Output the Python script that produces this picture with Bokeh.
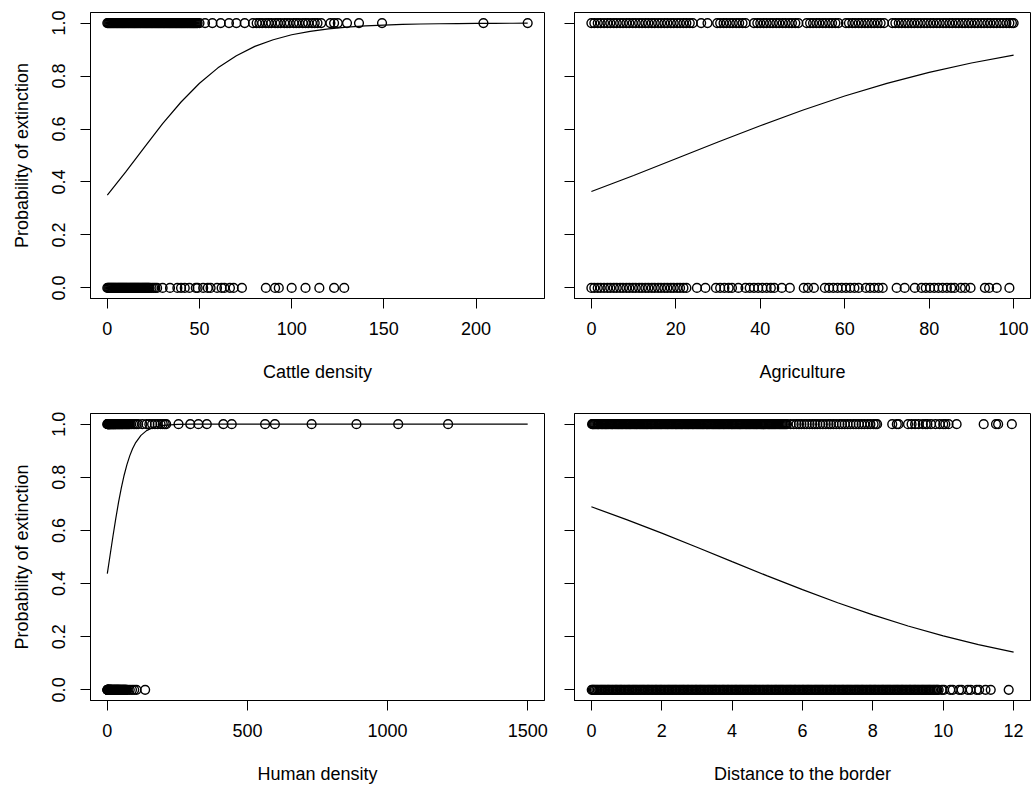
from bokeh.plotting import figure
from bokeh.layouts import column, row
from bokeh.models import FixedTicker, Range1d, PrintfTickFormatter, CustomJSTickFormatter
from bokeh.embed import file_html
from bokeh.resources import INLINE

FONT = "Liberation Sans"
FS = "18px"

y_ticks = [0, 0.2, 0.4, 0.6, 0.8, 1.0]
y_title = "Probability of extinction"

# ---------------- Cattle density ----------------
cattle_title = "Cattle density"
cattle_ticks = [0, 50, 100, 150, 200]
cattle_extinct = [0, 0.5, 1, 1.5, 2, 2.5, 3, 3.5, 4, 4.5, 5, 5.5, 6, 6.5, 7, 7.5, 8, 8.5, 9, 9.5,
                  10, 10.5, 11, 11.5, 12, 12.5, 13, 13.5, 14, 14.5, 15, 15.5, 16, 16.5, 17, 17.5,
                  18, 18.5, 19, 19.5, 20, 20.5, 21, 21.5, 22, 22.5, 23, 23.5, 24, 24.5, 25, 25.5,
                  26, 26.5, 27, 27.5, 28, 28.5, 29, 29.5, 30, 30.5, 31, 31.5, 32, 32.5, 33, 33.5,
                  34, 34.5, 35, 35.5, 36, 36.5, 37, 37.5, 38, 38.5, 39, 39.5, 40, 40.5, 41, 41.5,
                  42, 42.5, 43, 43.5, 44, 44.5, 45, 45.5, 46, 46.5, 47, 47.5, 48, 48.5, 49, 50,
                  53, 57, 61.5, 66, 70, 74.5, 79, 81, 82.5, 84, 86, 87.5, 89, 91, 92.5, 94, 96,
                  97.5, 99, 101, 102.5, 104, 106, 107.5, 109, 111, 112.5, 114, 116, 121, 123, 125,
                  130, 136.5, 149, 204, 228]
cattle_survived = [0, 0.5, 1, 1.5, 2, 2.5, 3, 3.5, 4, 4.5, 5, 5.5, 6, 6.5, 7, 7.5, 8, 8.5, 9, 9.5,
                   10, 10.5, 11, 11.5, 12, 12.5, 13, 13.5, 14, 14.5, 15, 15.5, 16, 16.5, 17, 17.5,
                   18, 18.5, 19, 19.5, 20, 20.5, 21, 21.5, 22, 22.5, 23, 24, 25, 26, 27, 30, 34,
                   38, 40, 42, 44.5, 48, 49, 52, 54.5, 56, 59.5, 62, 63.5, 66.5, 68.5, 73, 86, 91,
                   93, 100, 107.5, 115, 123, 128.5]
cattle_curve_x = [0, 10, 20, 30, 40, 50, 60, 70, 80, 90, 100, 110, 120, 130, 140, 150, 160, 170,
                  180, 190, 200, 210, 220, 228]
cattle_curve_p = [0.350, 0.438, 0.530, 0.620, 0.702, 0.773, 0.831, 0.877, 0.912, 0.937, 0.956,
                  0.969, 0.978, 0.985, 0.9895, 0.9927, 0.995, 0.9965, 0.9976, 0.9983, 0.9988,
                  0.9992, 0.9994, 0.9996]

# ---------------- Agriculture ----------------
agri_title = "Agriculture"
agri_ticks = [0, 20, 40, 60, 80, 100]
agri_extinct = [0, 0.7, 1.5, 2.2, 3, 3.8, 4.5, 5.3, 6, 6.8, 7.5, 8.3, 9, 9.8, 10.5, 11.3, 12, 12.8,
                13.5, 14.3, 15, 15.8, 16.5, 17.3, 18, 18.8, 19.5, 20.3, 21, 21.8, 22.5, 23.3, 24,
                26, 27.5, 29.8, 30.5, 31.3, 32, 32.8, 33.5, 34.3, 35, 35.8, 36.5, 38.5, 39.3, 40,
                40.8, 41.5, 42.3, 43, 43.8, 44.5, 45.3, 46, 46.8, 47.5, 48.3, 49, 51, 51.8, 52.5,
                53.3, 54, 54.8, 55.5, 56.3, 57, 57.8, 58.5, 60.3, 61, 61.8, 62.5, 63.3, 64, 64.8,
                65.5, 66.3, 67, 67.8, 68.5, 69.3, 71.3, 72, 72.8, 73.5, 74.3, 75, 75.8, 76.5,
                77.3, 78, 78.8, 79.5, 80.3, 81, 81.8, 82.5, 83.3, 84, 84.8, 85.5, 86.3, 87, 87.8,
                88.5, 89.3, 90, 90.8, 91.5, 92.3, 93, 93.8, 94.5, 95.3, 96, 96.8, 97.5, 98.3, 99,
                99.6, 100]
agri_survived = [0, 0.7, 1.5, 2.2, 3, 3.8, 4.5, 5.3, 6, 6.8, 7.5, 8.3, 9, 9.8, 10.5, 11.3, 12,
                 12.8, 13.5, 14.3, 15, 15.8, 16.5, 17.3, 18, 18.8, 19.5, 20.3, 21, 21.8, 22.5,
                 25, 27, 29.5, 30.5, 31.5, 32.5, 33.3, 34.8, 36.5, 37.5, 38.5, 39.5, 40.5, 41.5,
                 42.5, 43.3, 45.1, 47, 50.3, 51.3, 52.7, 55.3, 56.3, 57.3, 58.3, 59.3, 60.3, 61.3,
                 62.3, 63.3, 65, 66, 67, 68, 69, 72.3, 74.2, 76.6, 78.2, 79.2, 80.2, 81.2, 82.2,
                 83.2, 84.2, 85.2, 86, 87.5, 88.5, 89.8, 93.2, 94.2, 96, 99]
agri_curve_x = [0, 10, 20, 30, 40, 50, 60, 70, 80, 90, 100]
agri_curve_p = [0.364, 0.4246, 0.4875, 0.5508, 0.6125, 0.671, 0.7245, 0.7722, 0.8138, 0.8493, 0.879]

# ---------------- Human density ----------------
human_title = "Human density"
human_ticks = [0, 500, 1000, 1500]
human_extinct = [0, 1, 2, 3, 4, 5, 6, 7, 8, 9, 10, 11.5, 13, 14.5, 16, 17.5, 19, 20.5, 22, 23.5, 25,
                 26.5, 28, 29.5, 31, 33, 35, 37, 39, 41, 43, 45, 47, 49, 51, 53, 55, 57.5, 60,
                 62.5, 65, 67.5, 70, 72.5, 75, 77.5, 80, 85, 92, 98, 104, 110, 125, 140, 150, 160,
                 170, 180, 190, 198, 205, 210, 254, 296, 325, 355, 414, 444, 563, 598, 729, 889,
                 1038, 1216]
human_survived = [0, 0.5, 1, 1.5, 2, 2.5, 3, 3.5, 4, 5, 6, 7, 8, 9, 10, 11, 12, 13, 14, 15, 16, 18,
                  20, 21.5, 23, 24.5, 26, 27.5, 29, 30.5, 32, 33.5, 35, 36.5, 38, 39.5, 41, 42.5,
                  44, 46, 48, 50, 52, 54, 56, 58, 60, 62, 64, 66, 68, 72, 80, 88, 96, 104, 135]
human_curve_x = [0, 10, 20, 30, 40, 50, 60, 70, 80, 90, 100, 120, 140, 160, 180, 200, 250, 300,
                 400, 1500]
human_curve_p = [0.4376, 0.5075, 0.5771, 0.6438, 0.7054, 0.7603, 0.8077, 0.8476, 0.8805, 0.9071,
                 0.9282, 0.9577, 0.9755, 0.9859, 0.9919, 0.9954, 0.9989, 0.9997, 1.0, 1.0]

# ---------------- Distance to the border ----------------
dist_title = "Distance to the border"
dist_ticks = [0, 2, 4, 6, 8, 10, 12]
dist_extinct = [0.02, 0.04, 0.06, 0.085, 0.11, 0.14, 0.17, 0.19, 0.21, 0.245, 0.28, 0.305, 0.33,
                0.36, 0.39, 0.415, 0.44, 0.47, 0.5, 0.535, 0.57, 0.59, 0.61, 0.645, 0.68, 0.71,
                0.74, 0.765, 0.79, 0.82, 0.85, 0.875, 0.9, 0.935, 0.97, 0.995, 1.02, 1.05, 1.08,
                1.105, 1.13, 1.165, 1.2, 1.23, 1.26, 1.285, 1.31, 1.34, 1.37, 1.4, 1.43, 1.46,
                1.49, 1.52, 1.55, 1.575, 1.6, 1.635, 1.67, 1.695, 1.72, 1.75, 1.78, 1.81, 1.84,
                1.87, 1.9, 1.93, 1.96, 1.985, 2.01, 2.045, 2.08, 2.11, 2.14, 2.165, 2.19, 2.22,
                2.25, 2.28, 2.31, 2.345, 2.38, 2.405, 2.43, 2.46, 2.49, 2.52, 2.55, 2.575, 2.6,
                2.635, 2.67, 2.7, 2.73, 2.755, 2.78, 2.815, 2.85, 2.875, 2.9, 2.93, 2.96, 2.99,
                3.02, 3.05, 3.08, 3.11, 3.14, 3.165, 3.19, 3.225, 3.26, 3.285, 3.31, 3.34, 3.37,
                3.405, 3.44, 3.465, 3.49, 3.52, 3.55, 3.58, 3.61, 3.635, 3.66, 3.695, 3.73,
                3.755, 3.78, 3.81, 3.84, 3.87, 3.9, 3.935, 3.97, 3.995, 4.02, 4.05, 4.08, 4.11,
                4.14, 4.17, 4.2, 4.225, 4.25, 4.28, 4.31, 4.345, 4.38, 4.405, 4.43, 4.46, 4.49,
                4.52, 4.55, 4.58, 4.61, 4.64, 4.67, 4.695, 4.72, 4.755, 4.79, 4.82, 4.85, 4.875,
                4.9, 4.93, 4.96, 4.995, 5.03, 5.055, 5.08, 5.11, 5.14, 5.17, 5.2, 5.23, 5.26,
                5.29, 5.32, 5.35, 5.38, 5.41, 5.44, 5.47, 5.5, 5.53, 5.56, 5.66, 5.75, 5.83, 5.9,
                5.97, 6.05, 6.12, 6.2, 6.28, 6.35, 6.42, 6.5, 6.58, 6.66, 6.74, 6.8, 6.88, 6.96,
                7.05, 7.12, 7.2, 7.28, 7.36, 7.45, 7.52, 7.6, 7.68, 7.76, 7.85, 7.93, 8.02, 8.08,
                8.12, 8.55, 8.68, 8.73, 9.0, 9.1, 9.2, 9.3, 9.42, 9.5, 9.55, 9.65, 9.78, 9.9, 10.0,
                10.06, 10.15, 10.38, 11.15, 11.5, 11.56, 11.95]
dist_survived = [0.01, 0.04, 0.07, 0.1, 0.14, 0.18, 0.22, 0.26, 0.3, 0.33, 0.37, 0.41, 0.45, 0.48,
                 0.52, 0.56, 0.6, 0.64, 0.68, 0.71, 0.75, 0.79, 0.83, 0.86, 0.9, 0.94, 0.98, 1.02,
                 1.06, 1.09, 1.13, 1.17, 1.21, 1.24, 1.28, 1.32, 1.36, 1.4, 1.44, 1.47, 1.51,
                 1.55, 1.59, 1.62, 1.66, 1.7, 1.74, 1.78, 1.82, 1.85, 1.89, 1.93, 1.97, 2.0, 2.04,
                 2.08, 2.12, 2.16, 2.2, 2.23, 2.27, 2.31, 2.35, 2.38, 2.42, 2.46, 2.5, 2.54, 2.58,
                 2.61, 2.65, 2.69, 2.73, 2.76, 2.8, 2.84, 2.88, 2.92, 2.96, 2.99, 3.03, 3.07, 3.11,
                 3.14, 3.18, 3.22, 3.26, 3.3, 3.34, 3.37, 3.41, 3.45, 3.49, 3.52, 3.56, 3.6, 3.64,
                 3.68, 3.72, 3.75, 3.79, 3.83, 3.87, 3.9, 3.94, 3.98, 4.02, 4.06, 4.1, 4.13, 4.17,
                 4.21, 4.25, 4.28, 4.32, 4.36, 4.4, 4.44, 4.48, 4.51, 4.55, 4.59, 4.63, 4.66, 4.7,
                 4.74, 4.78, 4.82, 4.86, 4.89, 4.93, 4.97, 5.01, 5.04, 5.08, 5.12, 5.16, 5.2, 5.24,
                 5.27, 5.31, 5.35, 5.39, 5.42, 5.46, 5.5, 5.54, 5.58, 5.62, 5.65, 5.69, 5.73, 5.77,
                 5.8, 5.84, 5.88, 5.92, 5.96, 6.0, 6.03, 6.07, 6.11, 6.15, 6.18, 6.22, 6.26, 6.3,
                 6.34, 6.38, 6.41, 6.45, 6.49, 6.53, 6.56, 6.6, 6.64, 6.68, 6.72, 6.76, 6.79, 6.83,
                 6.87, 6.91, 6.94, 6.98, 7.02, 7.06, 7.1, 7.14, 7.17, 7.21, 7.25, 7.29, 7.32, 7.36,
                 7.4, 7.44, 7.48, 7.52, 7.55, 7.59, 7.63, 7.67, 7.7, 7.74, 7.78, 7.82, 7.86, 7.9,
                 7.93, 7.97, 8.01, 8.05, 8.08, 8.12, 8.16, 8.2, 8.24, 8.28, 8.31, 8.35, 8.39, 8.43,
                 8.46, 8.5, 8.54, 8.58, 8.62, 8.66, 8.69, 8.73, 8.77, 8.81, 8.84, 8.88, 8.92, 8.96,
                 9.0, 9.04, 9.07, 9.11, 9.15, 9.19, 9.22, 9.26, 9.3, 9.34, 9.38, 9.42, 9.45, 9.49,
                 9.53, 9.57, 9.6, 9.64, 9.68, 9.72, 9.76, 9.8, 9.83, 9.87, 9.96, 10.02, 10.2,
                 10.27, 10.45, 10.52, 10.7, 10.78, 10.95, 11.02, 11.2, 11.35, 11.86]
dist_curve_x = [0, 1, 2, 3, 4, 5, 6, 7, 8, 9, 10, 11, 12]
dist_curve_p = [0.689, 0.6408, 0.5898, 0.5365, 0.4826, 0.4289, 0.3771, 0.3278, 0.282, 0.2403,
                0.2031, 0.1704, 0.1419]


def padded(lo, hi):
    d = (hi - lo) * 0.04
    return Range1d(lo - d, hi + d)


def panel(ext, surv, cx, cp, xlo, xhi, xticks, xtitle, left, width, height, bl, br, bt, bb):
    p = figure(width=width, height=height, x_range=padded(xlo, xhi), y_range=padded(0, 1),
               output_backend="svg", toolbar_location=None,
               min_border_left=bl, min_border_right=br, min_border_top=bt, min_border_bottom=bb)
    p.xgrid.visible = False
    p.ygrid.visible = False
    p.outline_line_color = "black"
    p.outline_line_width = 1
    p.outline_line_alpha = 1
    p.background_fill_color = "white"
    p.border_fill_color = "white"

    p.scatter(ext, [1.0] * len(ext), size=8.8, marker="circle", fill_color=None,
              line_color="black", line_width=1.4)
    p.scatter(surv, [0.0] * len(surv), size=8.8, marker="circle", fill_color=None,
              line_color="black", line_width=1.4)
    p.line(cx, cp, line_color="black", line_width=1.2)

    for ax in (p.xaxis[0], p.yaxis[0]):
        ax.axis_line_color = "black"
        ax.major_tick_line_color = "black"
        ax.major_tick_out = 10
        ax.major_tick_in = 0
        ax.minor_tick_line_color = None
        ax.major_label_text_font = FONT
        ax.major_label_text_font_size = FS
        ax.major_label_text_color = "black"
        ax.axis_label_text_font = FONT
        ax.axis_label_text_font_size = FS
        ax.axis_label_text_font_style = "normal"
        ax.axis_label_text_color = "black"

    xa = p.xaxis[0]
    xa.ticker = FixedTicker(ticks=xticks)
    xa.major_label_standoff = 13
    xa.axis_label = xtitle
    xa.axis_label_standoff = 24

    ya = p.yaxis[0]
    ya.ticker = FixedTicker(ticks=y_ticks)
    if left:
        ya.formatter = PrintfTickFormatter(format="%.1f")
        ya.major_label_orientation = "vertical"
        ya.major_label_standoff = 15
        ya.axis_label = y_title
        ya.axis_label_standoff = 18
    else:
        ya.formatter = CustomJSTickFormatter(code="return ''")
        ya.major_label_standoff = 0
    return p


W_L, W_R = 559, 472
H_T, H_B = 395, 392

p1 = panel(cattle_extinct, cattle_survived, cattle_curve_x, cattle_curve_p, 0, 228, cattle_ticks,
           cattle_title, True, W_L, H_T, 90, 15, 12, 97)
p2 = panel(agri_extinct, agri_survived, agri_curve_x, agri_curve_p, 0, 100, agri_ticks,
           agri_title, False, W_R, H_T, 15, 1, 12, 97)
p3 = panel(human_extinct, human_survived, human_curve_x, human_curve_p, 0, 1500, human_ticks,
           human_title, True, W_L, H_B, 90, 15, 18, 87)
p4 = panel(dist_extinct, dist_survived, dist_curve_x, dist_curve_p, 0, 12, dist_ticks,
           dist_title, False, W_R, H_B, 15, 1, 18, 87)

layout = column(row(p1, p2, spacing=0), row(p3, p4, spacing=0), spacing=0)

open("out.html", "w").write(file_html(layout, INLINE))
